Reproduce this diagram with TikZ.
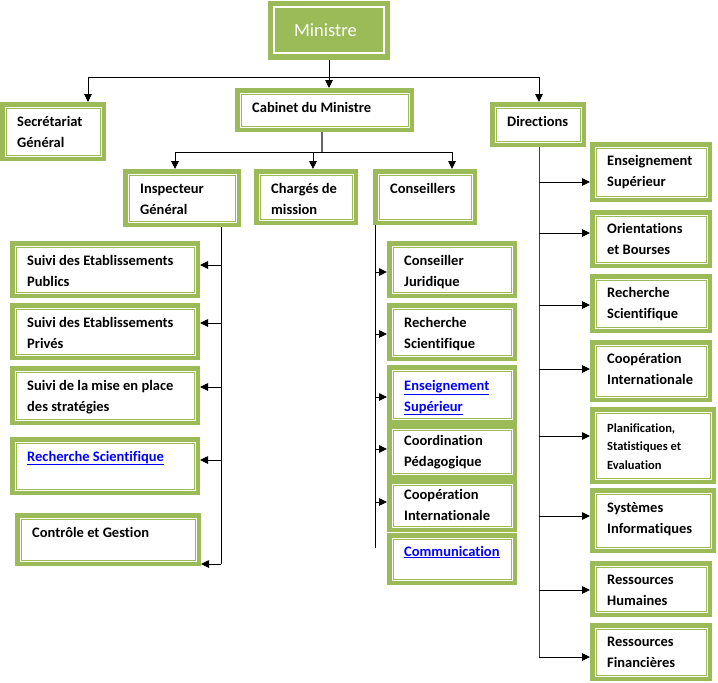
\documentclass[tikz,border=0pt]{standalone}
\usepackage{fontspec}
\setmainfont{Carlito}[Ligatures={NoCommon,NoContextual},RawFeature={-liga;-clig;-calt;-dlig}]
\usetikzlibrary{arrows.meta}
\definecolor{gr}{HTML}{9BBB59}
\definecolor{lnk}{HTML}{0000FF}
\tikzset{
 gbox/.style={draw=gr, line width=4.5pt, fill=white, inner sep=0pt},
 inl/.style={draw=gr, line width=1pt},
 txt/.style={inner sep=0pt, anchor=base west, font=\bfseries\fontsize{14.5}{21}\selectfont, text=black},
 arr/.style={draw=black, line width=0.9pt, -{Triangle[length=8pt,width=7.5pt]}},
 ln/.style={draw=black, line width=0.9pt},
}
\newcommand\obox[7][24]{%
 \node[gbox, minimum width={(#5-#3-4.5)*1pt}, minimum height={(#6-#4-4.5)*1pt}] (#2) at ({(#3+#5)/2},{(#4+#6)/2}) {};
 \draw[inl] ({#3+6},{#4+6}) rectangle ({#5-6},{#6-6});
 \node[txt] (#2t) at ({#3+17},{#4+#1}) {\vtop{#7}};
}
\newcommand\lk[1]{\textcolor{lnk}{\underline{#1}}}
\begin{document}
\begin{tikzpicture}[x=1pt,y=-1pt]
\useasboundingbox (0,0) rectangle (718,683);
% Ministre
\node[draw=gr, fill=gr, line width=2pt, minimum width=120pt, minimum height=57pt, inner sep=0pt] (min) at (329,30) {};
\draw[white, line width=1.5pt] (274,7) rectangle (384,53);
\node[text=white, font=\fontsize{18.5}{22}\selectfont, inner sep=0pt] (mint) at (325.5,30) {Ministre};
% first level
\obox{sg}{0}{102}{106}{161}{\hbox{Secrétariat}\hbox{Général}}
\obox{cab}{235}{88}{414}{132}{\hbox{Cabinet du Ministre}}
\obox{dir}{490}{102}{586}{147}{\hbox{Directions}}
% second level
\obox{ig}{123}{169}{241}{227}{\hbox{Inspecteur}\hbox{Général}}
\obox{cm}{254}{169}{358}{225}{\hbox{Chargés de}\hbox{mission}}
\obox{cons}{373}{169}{477}{225}{\hbox{Conseillers}}
% left column
\obox{l1}{10}{241}{200}{298}{\hbox{Suivi des Etablissements}\hbox{Publics}}
\obox{l2}{10}{303}{200}{360}{\hbox{Suivi des Etablissements}\hbox{Privés}}
\obox{l3}{10}{366}{200}{425}{\hbox{Suivi de la mise en place}\hbox{des stratégies}}
\obox{l4}{10}{437}{200}{495}{\hbox{\lk{Recherche Scientifique}}}
\obox{l5}{15}{513}{201}{566}{\hbox{Contrôle et Gestion}}
% middle column
\obox{m1}{387}{241}{517}{298}{\hbox{Conseiller}\hbox{Juridique}}
\obox{m2}{387}{303}{517}{361}{\hbox{Recherche}\hbox{Scientifique}}
\obox[25]{m3}{387}{365}{517}{424}{\hbox{\lk{Enseignement}}\hbox{\lk{Supérieur}}}
\obox[21]{m4}{387}{424}{517}{479}{\hbox{Coordination}\hbox{Pédagogique}}
\obox[20]{m5}{387}{479}{517}{532}{\hbox{Coopération}\hbox{Internationale}}
\obox[23]{m6}{387}{533}{517}{585}{\hbox{\lk{Communication}}}
% right column
\obox[23]{r1}{590}{142}{712}{202}{\hbox{Enseignement}\hbox{Supérieur}}
\obox[23]{r2}{590}{210}{712}{268}{\hbox{Orientations}\hbox{et Bourses}}
\obox[23]{r3}{590}{274}{712}{333}{\hbox{Recherche}\hbox{Scientifique}}
\obox[23]{r4}{590}{340}{712}{402}{\hbox{Coopération}\hbox{Internationale}}
\obox[25]{r5}{590}{407}{716}{484}{\fontsize{12.5}{18.7}\selectfont\hbox{Planification,}\hbox{Statistiques et}\hbox{Evaluation}}
\obox{r6}{590}{488}{716}{553}{\hbox{Systèmes}\hbox{Informatiques}}
\obox[23]{r7}{590}{561}{712}{617}{\hbox{Ressources}\hbox{Humaines}}
\obox[23]{r8}{590}{623}{712}{681}{\hbox{Ressources}\hbox{Financières}}
% top connectors
\coordinate (j1) at (329,77);
\coordinate (jL) at (88,77);
\coordinate (jR) at (539,77);
\draw[ln] (min.south) -- (j1);
\draw[ln] (jL) -- (jR);
\draw[arr] (jL) -- (jL |- sg.north);
\draw[arr] (j1) -- (j1 |- cab.north);
\draw[arr] (jR) -- (jR |- dir.north);
% cabinet connectors
\coordinate (k0) at (322,152);
\coordinate (kL) at (175,152);
\coordinate (kM) at (313,152);
\coordinate (kR) at (452,152);
\draw[ln, draw=black!60, line width=1.3pt] (k0 |- cab.south) -- (k0);
\draw[ln] (kL) -- (kR);
\draw[arr] (kL) -- (kL |- ig.north);
\draw[arr] (kM) -- (kM |- cm.north);
\draw[arr] (kR) -- (kR |- cons.north);
% inspecteur trunk
\coordinate (i0) at (221,227);
\coordinate (i1) at (221,265);
\coordinate (i2) at (221,323);
\coordinate (i3) at (221,387);
\coordinate (i4) at (221,460);
\coordinate (i5) at (221,564);
\draw[ln] (i0) -- (i5);
\draw[arr] (i1) -- (i1 -| l1.east);
\draw[arr] (i2) -- (i2 -| l2.east);
\draw[arr] (i3) -- (i3 -| l3.east);
\draw[arr] (i4) -- (i4 -| l4.east);
\draw[arr] (i5) -- (i5 -| l5.east);
% conseillers trunk
\coordinate (c0) at (375,225);
\coordinate (c1) at (375,272);
\coordinate (c2) at (375,334);
\coordinate (c3) at (375,397);
\coordinate (c4) at (375,449);
\coordinate (c5) at (375,502);
\coordinate (c6) at (375,548);
\draw[ln] (c0) -- (c6);
\draw[arr] (c1) -- (c1 -| m1.west);
\draw[arr] (c2) -- (c2 -| m2.west);
\draw[arr] (c3) -- (c3 -| m3.west);
\draw[arr] (c4) -- (c4 -| m4.west);
\draw[arr] (c5) -- (c5 -| m5.west);
% directions trunk
\coordinate (d0) at (539,147);
\coordinate (d1) at (539,182);
\coordinate (d2) at (539,233);
\coordinate (d3) at (539,305);
\coordinate (d4) at (539,369);
\coordinate (d5) at (539,436);
\coordinate (d6) at (539,516);
\coordinate (d7) at (539,590);
\coordinate (d8) at (539,657);
\draw[ln, draw=black!75] (d0) -- (d8);
\draw[arr] (d1) -- (d1 -| r1.west);
\draw[arr] (d2) -- (d2 -| r2.west);
\draw[arr] (d3) -- (d3 -| r3.west);
\draw[arr] (d4) -- (d4 -| r4.west);
\draw[arr] (d5) -- (d5 -| r5.west);
\draw[arr] (d6) -- (d6 -| r6.west);
\draw[arr] (d7) -- (d7 -| r7.west);
\draw[arr] (d8) -- (d8 -| r8.west);
\end{tikzpicture}
\end{document}
